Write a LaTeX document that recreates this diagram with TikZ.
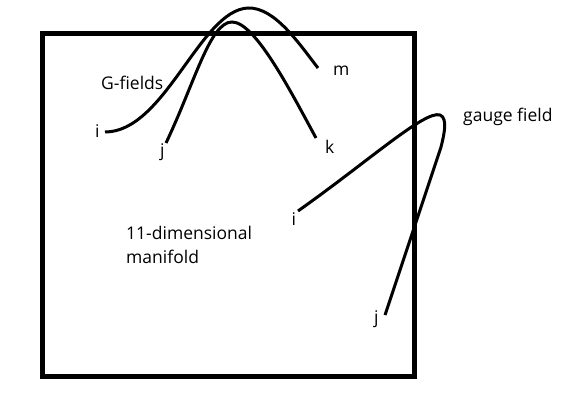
\documentclass[tikz,border=0pt]{standalone}
\usepackage{fontspec}
\setmainfont{Open Sans}
\usetikzlibrary{positioning}

\begin{document}
\begin{tikzpicture}[x=1pt,y=-1pt,font=\fontsize{17.5}{21}\selectfont,
  lbl/.style={anchor=base west,inner sep=0pt},
  strand/.style={line width=3pt},
  frame/.style={line width=5pt}]
\useasboundingbox (0,0) rectangle (561,404);
% manifold
\draw[frame] (42.5,33.5) rectangle (414,376);
\node[lbl] (dim) at (126,239) {11-dimensional};
\node[lbl] (mfd) at (126,263) {manifold};
% G-fields
\node[lbl] (gf) at (101,89) {G-fields};
\node[lbl] (gi) at (95,137.5) {i};
\node[lbl] (gj) at (160,156) {j};
\node[lbl] (gm) at (333,75) {m};
\node[lbl] (gk) at (325,153) {k};
\coordinate (gi end) at (105,132);
\coordinate (gm end) at (318,68);
\coordinate (gj end) at (166,143);
\coordinate (gk end) at (316,138);
\draw[strand] (gi end) .. controls (165,132) and (200,10) .. (248,8)
  .. controls (275,7) and (300,45) .. (gm end);
\draw[strand] (gj end) .. controls (195,82) and (210,22) .. (232,22)
  .. controls (255,22) and (290,90) .. (gk end);
% gauge field
\node[lbl] (gauge) at (463,121.5) {gauge field};
\node[lbl] (ai) at (291.5,225) {i};
\node[lbl] (aj) at (374,323) {j};
\coordinate (ai end) at (298,211);
\coordinate (aj end) at (385,315);
\draw[strand] (ai end) .. controls (370,160) and (425,110) .. (440,115)
  .. controls (448,118) and (444,135) .. (441,147) -- (aj end);
\end{tikzpicture}
\end{document}
